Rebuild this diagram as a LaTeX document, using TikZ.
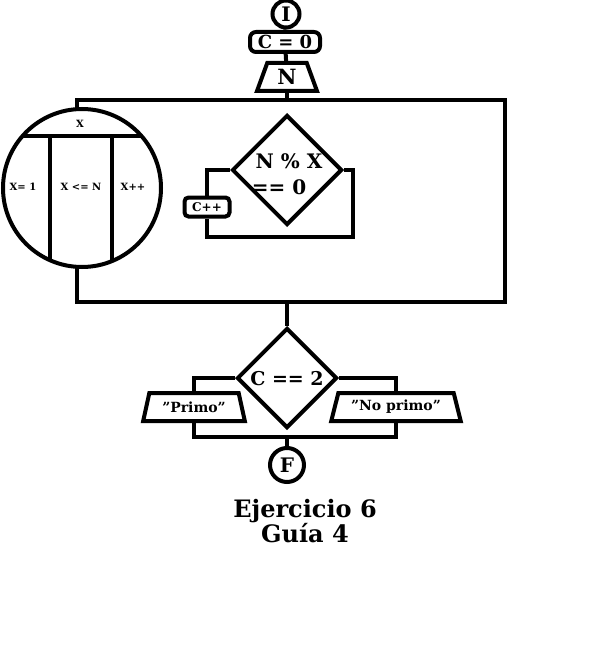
\documentclass[tikz,border=0pt]{standalone}
\usepackage{fontspec}
\setmainfont{DejaVu Serif}
\usetikzlibrary{shapes.geometric}
\begin{document}
\begin{tikzpicture}[x=1pt,y=-1pt, line width=4pt, line join=miter,
  fs/.style={font=\bfseries\fontsize{#1}{#1}\selectfont},
  box/.style={draw, inner sep=0pt},
  trap/.style={draw, trapezium, trapezium stretches=true, trapezium angle=#1, inner sep=0pt},
  dia/.style={draw, diamond, aspect=1, inner sep=0pt, minimum size=#1},
  lbl/.style={inner sep=0pt}]
\fill[white] (0,0) rectangle (600,650);
\useasboundingbox (0,0) rectangle (600,650);
% top
\node[box, circle, minimum size=27, fs=20] (I) at (286,14) {I};
\node[box, rounded corners=6, minimum width=70, minimum height=20, fs=18] (C0) at (285,42) {C = 0};
\node[trap=72, minimum width=60, minimum height=28, fs=21] (N) at (287,77) {N};
\draw (I) -- (C0);
\draw (C0) -- (N);
% big loop rectangle
\node[box, minimum width=428, minimum height=202] (loop) at (291,201) {};
\draw (N.south) -- (loop.north -| N.south);
% for circle
\node[box, circle, fill=white, minimum size=158] (for) at (82,188) {};
\begin{scope}
  \clip (82,188) circle (79);
  \draw (0,136) -- (170,136);
  \draw (50,136) -- (50,280);
  \draw (112,136) -- (112,280);
\end{scope}
\node[lbl, fs=10] (fx) at (80,124) {X};
\node[lbl, fs=10] (f1) at (23,187) {X= 1};
\node[lbl, fs=10] (f2) at (81,187) {X <= N};
\node[lbl, fs=10] (f3) at (133,187) {X++};
% inner decision
\node[dia=110] (d1) at (287,170) {};
\node[lbl, fs=20] (t1a) at (289,161) {N \% X};
\node[lbl, fs=20] (t1b) at (279,187) {== 0};
\node[box, rounded corners=4, minimum width=45, minimum height=19, fs=12] (cpp) at (207,207) {C++};
\draw (d1.west) -| (cpp.north);
\draw (cpp.south) |- (353,237) |- (d1.east);
% final decision
\node[dia=100] (d2) at (287,378) {};
\node[lbl, fs=19] (t2) at (287,379) {C == 2};
\draw (loop.south -| d2.north) -- (d2.north);
\node[trap=68, minimum width=102, minimum height=28, fs=14] (primo) at (194,407) {\symbol{34}Primo\symbol{34}};
\node[trap=68, minimum width=130, minimum height=28, fs=14] (noprimo) at (396,407) {\symbol{34}No primo\symbol{34}};
\draw (d2.west) -| (primo.north);
\draw (d2.east) -| (noprimo.north);
\coordinate (m) at (287,437);
\draw (primo.south) |- (m) -| (noprimo.south);
\node[box, circle, minimum size=34, fs=20] (F) at (287,465) {F};
\draw (m) -- (F);
% title
\node[lbl, align=center, font=\bfseries\fontsize{24}{21}\selectfont] (title) at (305,521) {Ejercicio 6\\Guía 4};
\end{tikzpicture}
\end{document}
